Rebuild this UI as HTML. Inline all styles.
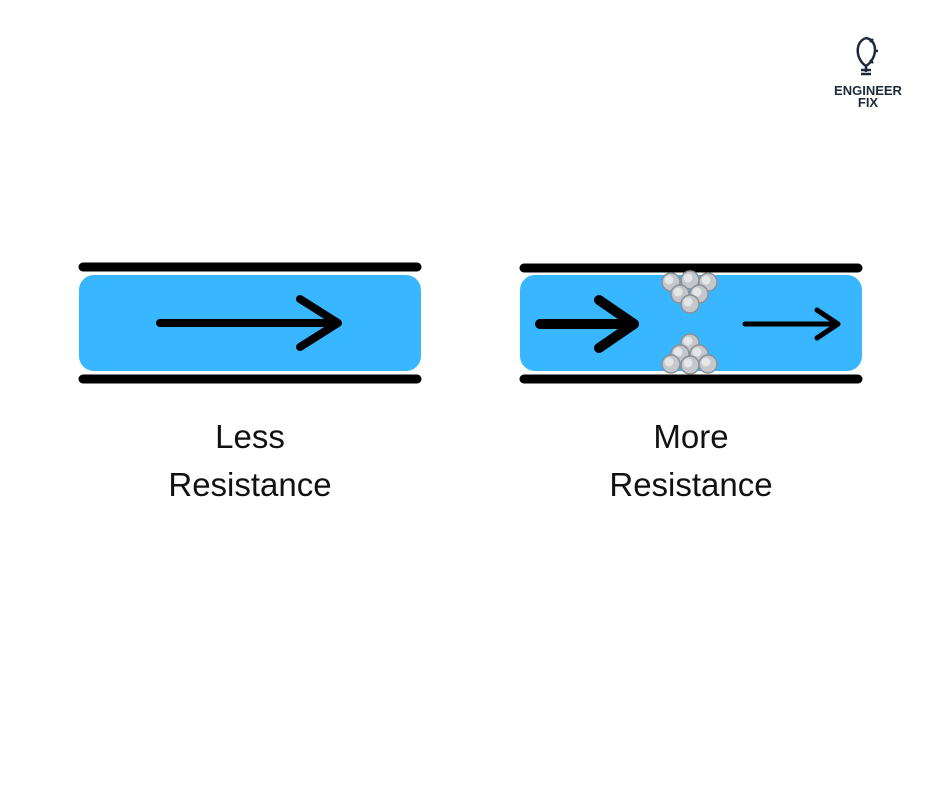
<!DOCTYPE html>
<html><head><style>
body{margin:0;width:940px;height:788px;background:#fff;overflow:hidden;font-family:"Liberation Sans",sans-serif}
.t{position:absolute;width:300px;text-align:center;font-size:33px;line-height:48px;color:#111}
</style></head><body>
<svg width="940" height="788" style="position:absolute;left:0;top:0">
<defs>
<g id="r"><circle r="9" fill="#c4c8cc" stroke="#8a9096" stroke-width="1.5"/><circle cx="-2" cy="-2" r="4.5" fill="#e4e6e8"/></g>
</defs>
<line x1="83" y1="267" x2="417" y2="267" stroke="#000" stroke-width="9" stroke-linecap="round"/>
<rect x="79" y="275" width="342" height="96" rx="15" fill="#38b6ff"/>
<line x1="83" y1="379" x2="417" y2="379" stroke="#000" stroke-width="9" stroke-linecap="round"/>
<path d="M160 323H336M300 299L338 323L300 347" stroke="#000" stroke-width="8" fill="none" stroke-linecap="round" stroke-linejoin="round"/>

<line x1="524" y1="268" x2="858" y2="268" stroke="#000" stroke-width="9" stroke-linecap="round"/>
<rect x="520" y="275" width="342" height="96" rx="15" fill="#38b6ff"/>
<line x1="524" y1="379" x2="858" y2="379" stroke="#000" stroke-width="9" stroke-linecap="round"/>
<path d="M540 324H632M599 300L634 324L599 348" stroke="#000" stroke-width="10" fill="none" stroke-linecap="round" stroke-linejoin="round"/>
<path d="M745 324H838M817 310L838 324L817 338" stroke="#000" stroke-width="5" fill="none" stroke-linecap="round" stroke-linejoin="round"/>
<use href="#r" x="671" y="282"/><use href="#r" x="690" y="280"/><use href="#r" x="708" y="282"/>
<use href="#r" x="680" y="294"/><use href="#r" x="699" y="294"/><use href="#r" x="690" y="304"/>
<use href="#r" x="690" y="343"/><use href="#r" x="680" y="354"/><use href="#r" x="699" y="354"/>
<use href="#r" x="671" y="364"/><use href="#r" x="690" y="365"/><use href="#r" x="708" y="364"/>

<g transform="translate(866,38)" fill="none" stroke="#1e2a3a" stroke-width="2.5">
<path d="M0 34V28C-10 22-12 4 0 0"/><path d="M0 0C12 2 12 20 0 28"/>
<path d="M4 4l3-3M8 13h4M4 22l3 3" />
<path d="M-5 32H5M-5 36H5"/>
</g>
<text x="868" y="95" font-size="13" font-weight="bold" fill="#1e2a3a" text-anchor="middle" font-family="Liberation Sans">ENGINEER</text>
<text x="868" y="107" font-size="13" font-weight="bold" fill="#1e2a3a" text-anchor="middle" font-family="Liberation Sans">FIX</text>
</svg>
<div class="t" style="left:100px;top:413px">Less<br>Resistance</div>
<div class="t" style="left:541px;top:413px">More<br>Resistance</div>
</body></html>
